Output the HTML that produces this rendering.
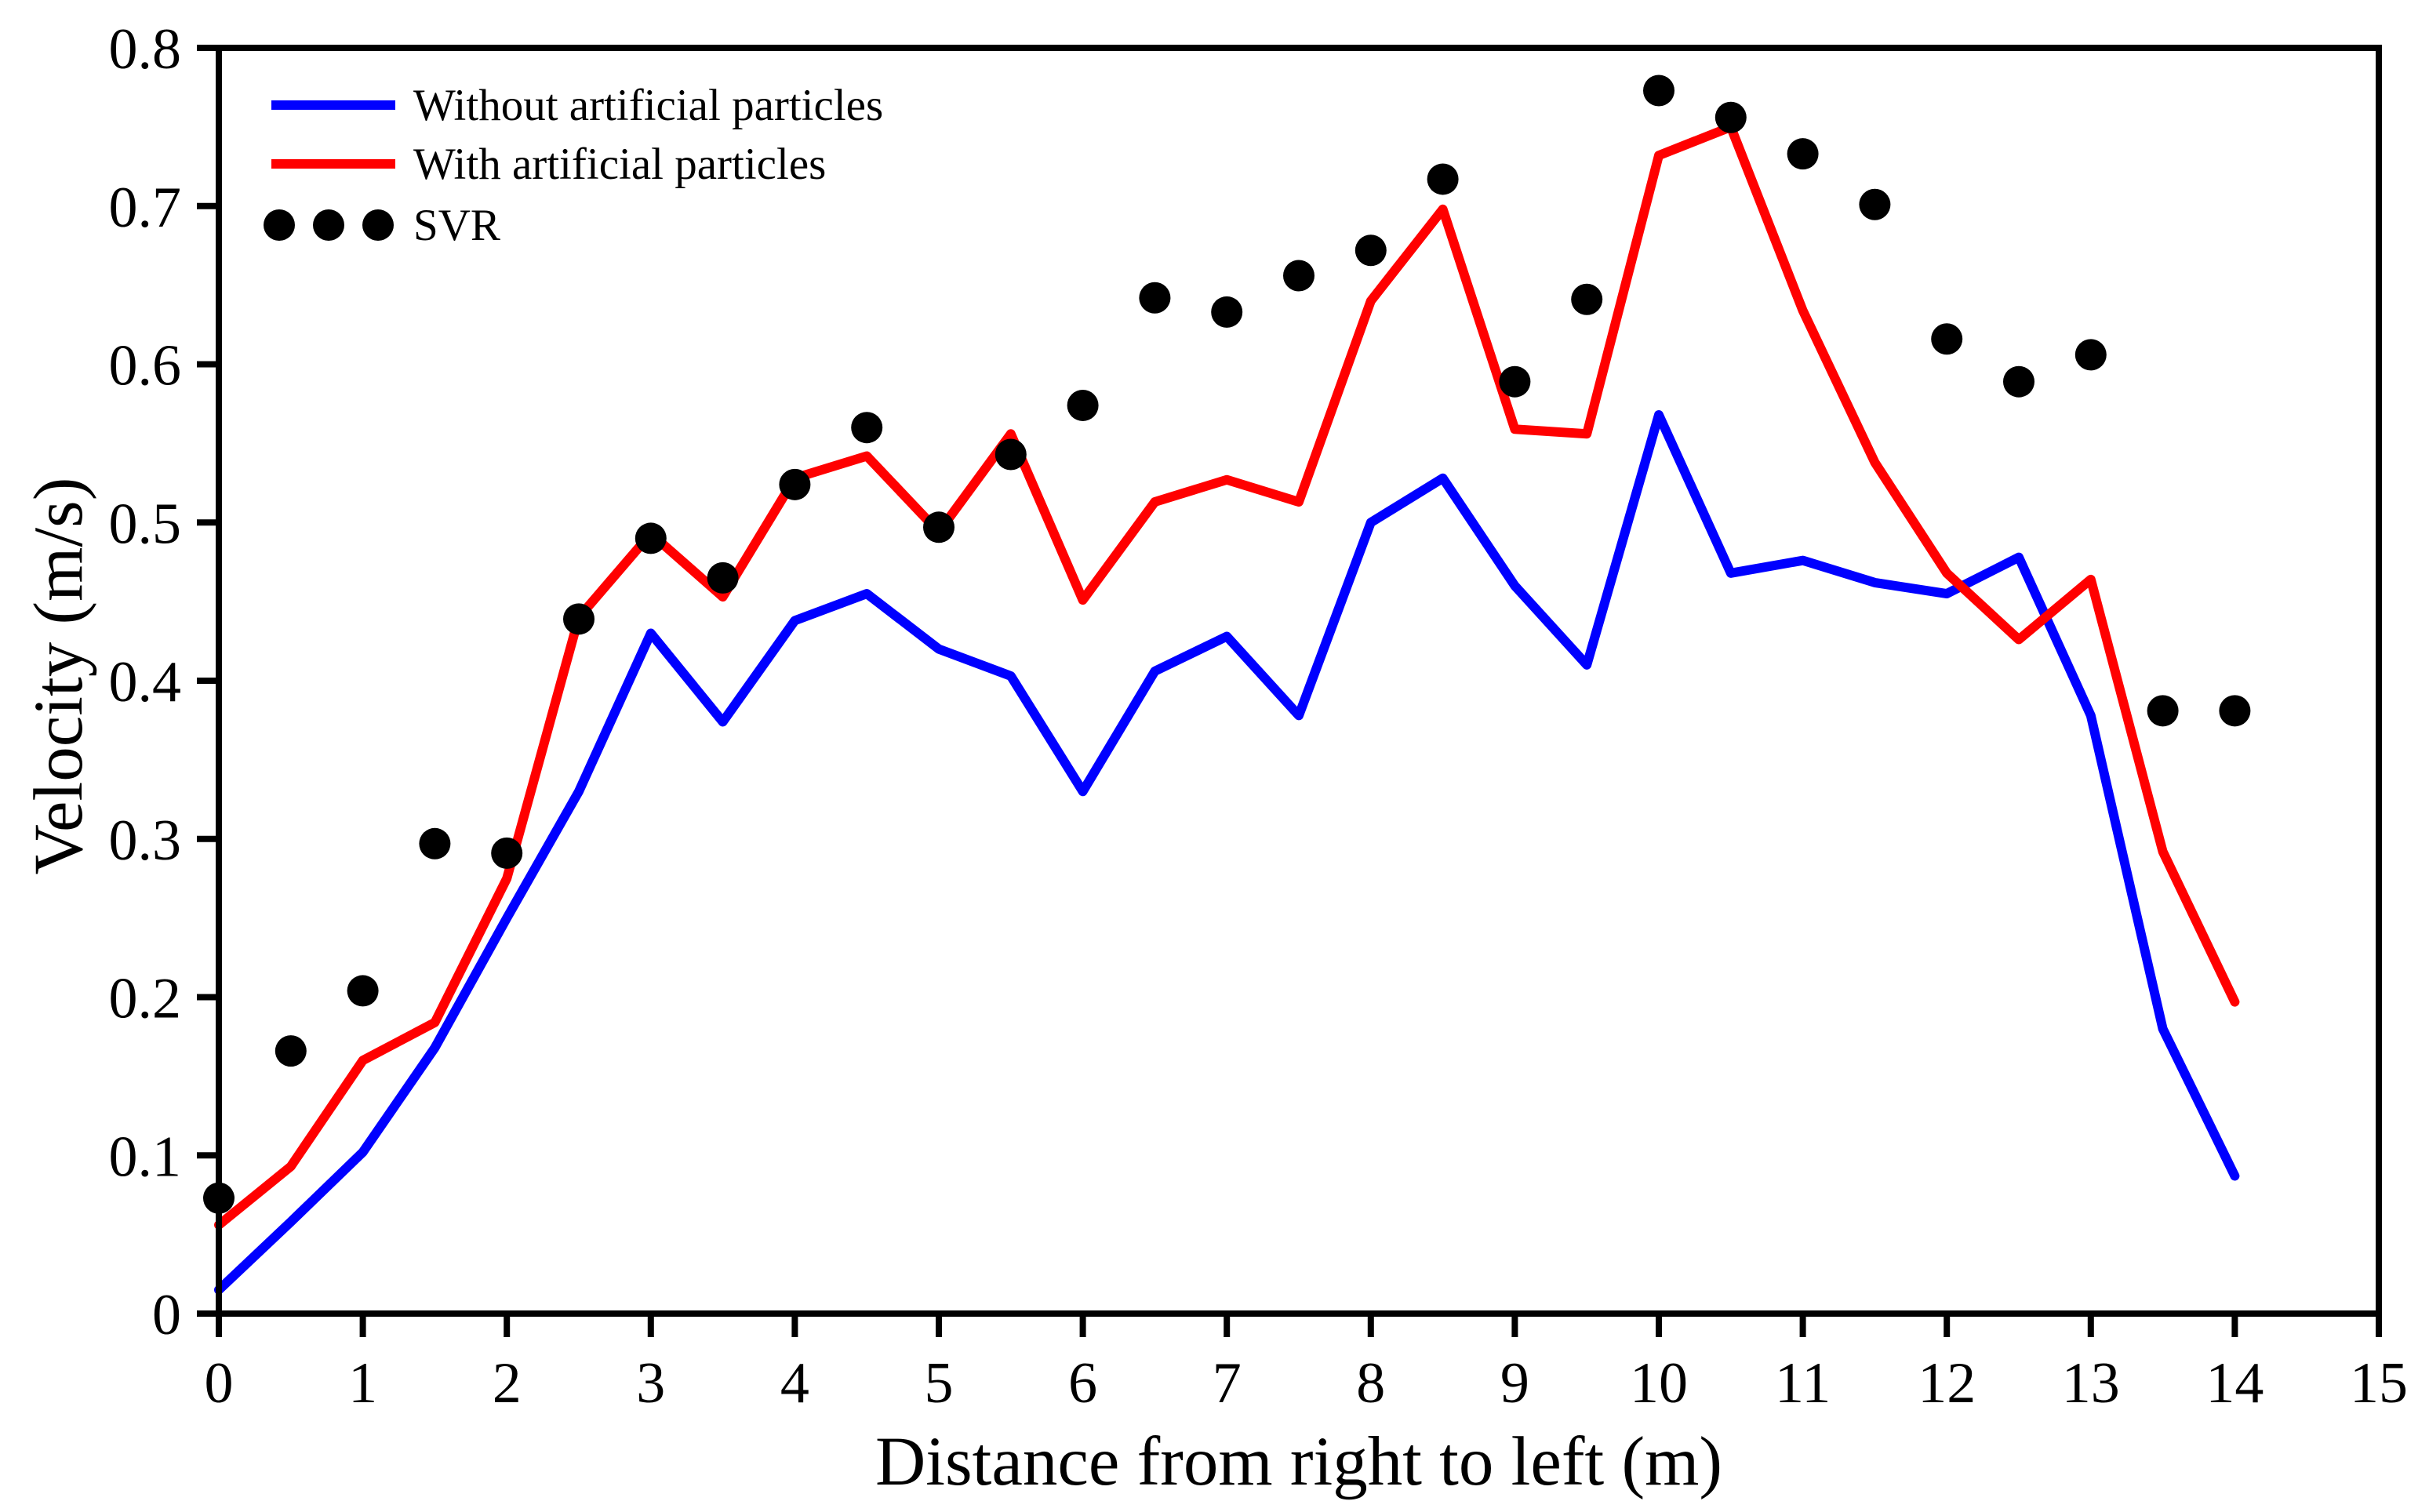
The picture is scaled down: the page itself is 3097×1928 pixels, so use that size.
<!DOCTYPE html>
<html><head><meta charset="utf-8"><style>
html,body{margin:0;padding:0;background:#fff}
svg{display:block}
text{font-family:"Liberation Serif",serif;fill:#000}
</style></head><body>
<svg id="chart" width="3097" height="1928" viewBox="0 0 3097 1928" xmlns="http://www.w3.org/2000/svg">
<g id="marks"></g>
<rect x="279" y="61" width="2754" height="1614" fill="none" stroke="#000" stroke-width="8"/>
<g id="ticks"></g>
<text x="1656" y="1893" font-size="89" text-anchor="middle">Distance from right to left (m)</text>
<text transform="translate(104,862) rotate(-90)" font-size="89" text-anchor="middle">Velocity (m/s)</text>
<g>
<line x1="346" y1="134" x2="504" y2="134" stroke="#0000ff" stroke-width="12"/>
<text x="527" y="153" font-size="57">Without artificial particles</text>
<line x1="346" y1="209" x2="504" y2="209" stroke="#ff0000" stroke-width="12"/>
<text x="527" y="228" font-size="57">With artificial particles</text>
<circle cx="356" cy="287" r="20"/>
<circle cx="419" cy="287" r="20"/>
<circle cx="482" cy="287" r="20"/>
<text x="527" y="306" font-size="57">SVR</text>
</g>
</svg>
<script>
const distances=[0,0.5,1,1.5,2,2.5,3,3.5,4,4.5,5,5.5,6,6.5,7,7.5,8,8.5,9,9.5,10,10.5,11,11.5,12,12.5,13,13.5,14];
const withoutParticles=[0.015,0.058,0.102,0.168,0.25,0.33,0.43,0.374,0.438,0.455,0.42,0.403,0.33,0.406,0.428,0.378,0.5,0.528,0.46,0.41,0.568,0.468,0.476,0.462,0.455,0.478,0.378,0.18,0.087];
const withParticles=[0.056,0.093,0.16,0.184,0.275,0.44,0.493,0.453,0.528,0.542,0.494,0.556,0.451,0.513,0.527,0.513,0.64,0.698,0.559,0.556,0.732,0.75,0.634,0.538,0.468,0.426,0.464,0.292,0.197];
const svr=[0.073,0.166,0.204,0.297,0.291,0.439,0.49,0.465,0.524,0.56,0.497,0.543,0.574,0.642,0.633,0.656,0.672,0.717,0.589,0.641,0.773,0.756,0.733,0.701,0.616,0.589,0.606,0.381,0.381];
const xTicks=[0,1,2,3,4,5,6,7,8,9,10,11,12,13,14,15];
const yTicks=[0,0.1,0.2,0.3,0.4,0.5,0.6,0.7,0.8];
const yTickLabels=["0","0.1","0.2","0.3","0.4","0.5","0.6","0.7","0.8"];
const NS="http://www.w3.org/2000/svg";
const X0=279,X1=3033,Y0=1675,Y1=61;
function xs(v){return X0+(v-0)/(15-0)*(X1-X0);}
function ys(v){return Y0-(v-0)/(0.8-0)*(Y0-Y1);}
const marks=document.getElementById('marks');
const ticks=document.getElementById('ticks');
function poly(vals,color,name){
  const p=document.createElementNS(NS,'polyline');
  p.setAttribute('points',vals.map((v,i)=>xs(distances[i])+','+ys(v)).join(' '));
  p.setAttribute('fill','none');p.setAttribute('stroke',color);p.setAttribute('stroke-width','12');
  p.setAttribute('stroke-linejoin','round');p.setAttribute('stroke-linecap','round');
  
  
  marks.appendChild(p);
}
poly(withoutParticles,'#0000ff','without-particles-line');
poly(withParticles,'#ff0000','with-particles-line');
svr.forEach((v,i)=>{
  const c=document.createElementNS(NS,'circle');
  c.setAttribute('cx',xs(distances[i]));c.setAttribute('cy',ys(v));c.setAttribute('r','20');
  
  
  marks.appendChild(c);
});
xTicks.forEach(t=>{
  const l=document.createElementNS(NS,'line');
  l.setAttribute('x1',xs(t));l.setAttribute('x2',xs(t));l.setAttribute('y1',Y0);l.setAttribute('y2',Y0+30);
  l.setAttribute('stroke','#000');l.setAttribute('stroke-width','8');
  
  
  ticks.appendChild(l);
  const tx=document.createElementNS(NS,'text');
  tx.setAttribute('x',xs(t));tx.setAttribute('y',1788);tx.setAttribute('font-size','74');tx.setAttribute('text-anchor','middle');
  tx.textContent=String(t);
  
  
  ticks.appendChild(tx);
});
yTicks.forEach((t,i)=>{
  const l=document.createElementNS(NS,'line');
  l.setAttribute('x1',X0-28);l.setAttribute('x2',X0);l.setAttribute('y1',ys(t));l.setAttribute('y2',ys(t));
  l.setAttribute('stroke','#000');l.setAttribute('stroke-width','8');
  
  
  ticks.appendChild(l);
  const tx=document.createElementNS(NS,'text');
  tx.setAttribute('x',231);tx.setAttribute('y',ys(t)+26);tx.setAttribute('font-size','74');tx.setAttribute('text-anchor','end');
  tx.textContent=yTickLabels[i];
  
  
  ticks.appendChild(tx);
});
</script>
</body></html>
